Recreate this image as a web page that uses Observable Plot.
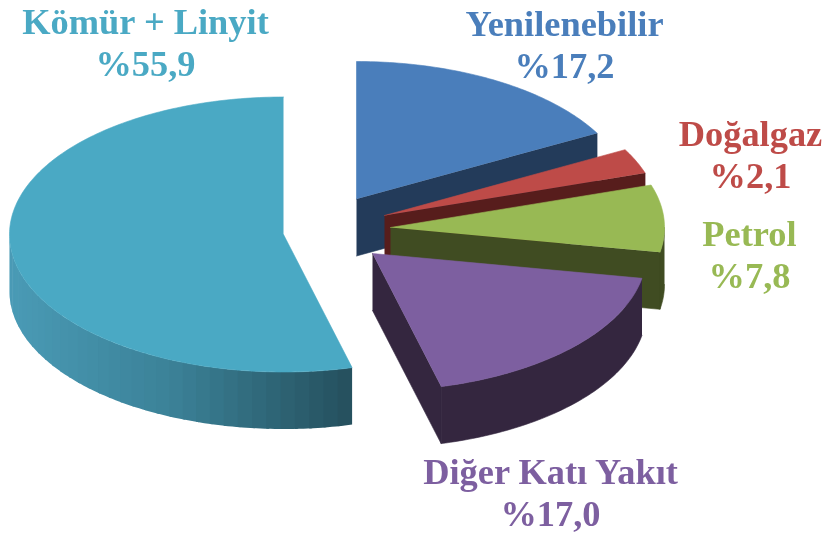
<!DOCTYPE html>
<html lang="tr">
<head>
<meta charset="utf-8">
<script src="https://cdn.jsdelivr.net/npm/d3@7"></script>
<script src="https://cdn.jsdelivr.net/npm/@observablehq/plot@0.6"></script>
<style>
html,body{margin:0;padding:0;background:#fff}
svg{display:block;filter:blur(0.45px)}
</style>
</head>
<body>
<div id="chart"></div>
<script>
// Data, clockwise from 12 o'clock
const names = ["Yenilenebilir", "Doğalgaz", "Petrol", "Diğer Katı Yakıt", "Kömür + Linyit"];
const shares = [17.2, 2.1, 7.8, 17.0, 55.9];

// Styling
const topColors = ["#4a7ebb", "#be4b48", "#98b954", "#7d5fa0", "#4aa9c4"];
const wallColors = ["#233b5a", "#571d1c", "#404c22", "#34263f", "#2f6b7d"];
const wallGradient = ["#4a9bb6", "#3b8197", "#25505e"];

// Layout: fake-3D pie geometry
const W = 825, H = 534;
const rx = 274, ry = 137.5, depth = 57;
const explodeX = [356, 384, 390, 372, 283];
const explodeY = [198.5, 215, 227, 253, 234];
const viewEdges = [0, 61.4, 72, 100.4, 165.5, 360]; // perspective-corrected edge angles
const labelX = [564, 750, 749, 550, 145];
const labelY = [43, 153, 253, 491, 41];
const labelSize = 36.4;

const cum = d3.cumsum(shares);
const nominal = [0, ...cum.map(c => c / d3.sum(shares) * 360)];
const viewAngle = d3.scaleLinear().domain(nominal).range(viewEdges);

const pt = (i, deg, down = 0) => {
  const a = deg * Math.PI / 180;
  return {x: explodeX[i] + rx * Math.sin(a), y: explodeY[i] - ry * Math.cos(a) + down};
};
const arc = (i, a0, a1, down = 0) => {
  const n = Math.max(2, Math.ceil(Math.abs(a1 - a0)));
  return d3.range(n + 1).map(k => pt(i, a0 + (a1 - a0) * k / n, down));
};

const wallScale = d3.scaleLinear().domain([8, 175, 350]).range(wallGradient);
const faces = [];
const strips = [];
let fid = 0;
const addFace = (list, points, color) => {
  const id = fid++;
  for (const p of points) list.push({...p, id, color});
};

shares.forEach((s, i) => {
  const a0 = viewAngle(nominal[i]), a1 = viewAngle(nominal[i + 1]);
  const apex = {x: explodeX[i], y: explodeY[i]};
  const apexB = {x: explodeX[i], y: explodeY[i] + depth};
  const isMain = i === shares.length - 1;
  // cut face
  if (!isMain) {
    addFace(faces, [apex, pt(i, a1), pt(i, a1, depth), apexB], wallColors[i]);
  }
  // outer wall (visible lower half only)
  const w0 = Math.max(a0, 90), w1 = Math.min(a1, 270);
  if (w1 > w0) {
    if (isMain) {
      // overlapping bands, drawn from the far end so the seams do not show
      for (let d = w1; d > w0; d -= 3) {
        const lo = Math.max(d - 3, w0);
        const hi = Math.min(d + 0.6, w1);
        const xm = pt(i, (lo + d) / 2).x;
        addFace(strips, [...arc(i, lo, hi), ...arc(i, hi, lo, depth)], d3.color(wallScale(xm)).formatHex());
      }
    } else {
      addFace(faces, [...arc(i, w0, w1), ...arc(i, w1, w0, depth)], wallColors[i]);
    }
  }
  // top face
  addFace(faces, [apex, ...arc(i, a0, a1)], topColors[i]);
});

const fmt = v => "%" + v.toFixed(1).replace(".", ",");
const labels = names.map((n, i) => ({
  text: n + "\n" + fmt(shares[i]),
  x: labelX[i], y: labelY[i], color: topColors[i]
}));

const plot = Plot.plot({
  width: W, height: H,
  marginTop: 0, marginRight: 0, marginBottom: 0, marginLeft: 0,
  x: {domain: [0, W], range: [0, W], axis: null},
  y: {domain: [0, H], range: [0, H], axis: null},
  color: {type: "identity"},
  style: {background: "#fff"},
  marks: [
    Plot.line(strips, {x: "x", y: "y", z: "id", fill: "color", stroke: "none", curve: "linear"}),
    Plot.line(faces, {x: "x", y: "y", z: "id", fill: "color", stroke: "color", strokeWidth: 0.6, strokeLinejoin: "round", curve: "linear"}),
    Plot.text(labels, {
      x: "x", y: "y", text: "text", fill: "color",
      fontFamily: "Liberation Serif", fontWeight: "bold", fontSize: labelSize,
      lineHeight: 1.14, textAnchor: "middle"
    })
  ]
});
document.getElementById("chart").append(plot);
</script>
</body>
</html>
